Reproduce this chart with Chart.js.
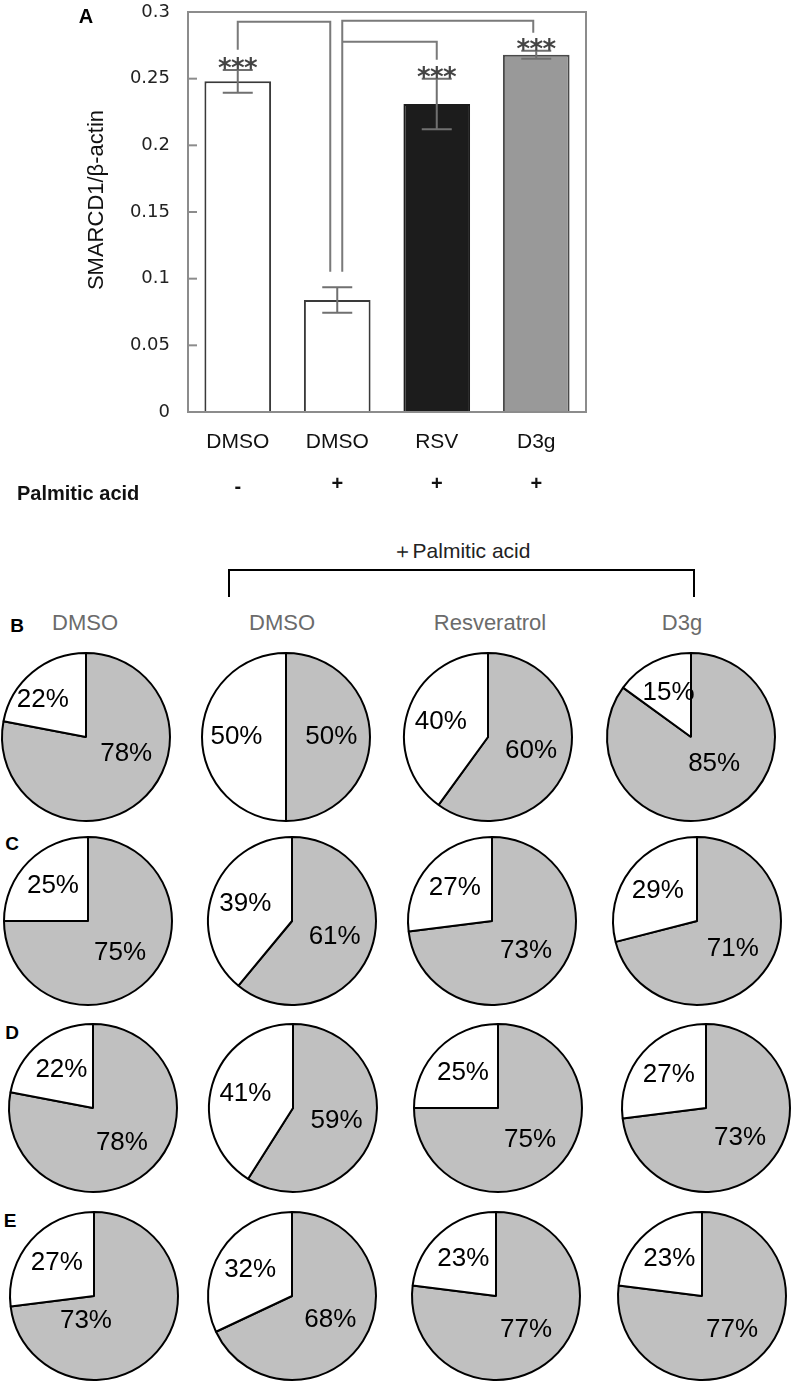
<!DOCTYPE html>
<html>
<head>
<meta charset="utf-8">
<script src="https://cdn.jsdelivr.net/npm/chart.js@4.4.1/dist/chart.umd.min.js"></script>
<style>
html,body{margin:0;padding:0;background:#fff;}
body{width:798px;height:1382px;position:relative;overflow:hidden;font-family:"Liberation Sans",Arial,sans-serif;}
#bar{position:absolute;left:0;top:0;}
.pie{position:absolute;}
.rowlab{position:absolute;font-weight:bold;font-size:19px;color:#000;transform:translate(-50%,-50%);line-height:1;}
.colhead{position:absolute;font-size:22px;color:#6b6b6b;transform:translate(-50%,-50%);white-space:nowrap;line-height:1;}
#paTitle{position:absolute;font-size:21px;color:#222;transform:translate(-50%,-50%);white-space:nowrap;line-height:1;}
#bracket{position:absolute;border-top:2px solid #000;border-left:2px solid #000;border-right:2px solid #000;box-sizing:border-box;}
#panelA{position:absolute;font-weight:bold;font-size:20px;color:#000;transform:translate(-50%,-50%);line-height:1;}
</style>
</head>
<body>
<canvas id="bar" width="798" height="520"></canvas>
<div id="panelA" style="left:86px;top:16px;">A</div>
<div id="paTitle" style="left:461px;top:550px;">＋Palmitic acid</div>
<div id="bracket" style="left:228px;top:569px;width:467px;height:28px;"></div>
<div id="pies"></div>

<script>
// ---------- Panel A data ----------
const barCategories = ['DMSO', 'DMSO', 'RSV', 'D3g'];
const barValues = [0.248, 0.084, 0.231, 0.268];
const barErrors = [0.0085, 0.0095, 0.019, 0.003];
const barSignificant = [true, false, true, true];
const palmiticAcid = ['-', '+', '+', '+'];
const yTickValues = [0, 0.05, 0.1, 0.15, 0.2, 0.25, 0.3];
const yAxisTitle = 'SMARCD1/β-actin';

// ---------- Panels B–E data (percentages) ----------
const pieColumns = ['DMSO', 'DMSO', 'Resveratrol', 'D3g'];
const rowLabels = ['B', 'C', 'D', 'E'];
const whiteB = [22, 50, 40, 15];
const grayB  = [78, 50, 60, 85];
const whiteC = [25, 39, 27, 29];
const grayC  = [75, 61, 73, 71];
const whiteD = [22, 41, 25, 27];
const grayD  = [78, 59, 75, 73];
const whiteE = [27, 32, 23, 23];
const grayE  = [73, 68, 77, 77];

// ---------- styles / layout ----------
const barFill = ['#ffffff', '#ffffff', '#1c1c1c', '#999999'];
const barEdge = ['#3a3a3a', '#3a3a3a', '#1c1c1c', '#4a4a4a'];
const frameColor = '#8c8c8c';
const errColor = '#707070';
const bracketColor = '#7a7a7a';

// significance brackets, heights in data units, leg x shifts in px
const brackets = [
  {from: 0, to: 1, fromDx: 0, toDx: -7, level: 0.2927, fromEnd: 0.2717, toEnd: 0.1052},
  {from: 1, to: 3, fromDx: 5, toDx: -3, level: 0.2935, fromEnd: 0.1052, toEnd: 0.2845},
  {from: 1, to: 2, fromDx: 5, toDx: 0, level: 0.2777, fromEnd: null, toEnd: 0.2642}
];

const barDecor = {
  id: 'barDecor',
  afterDatasetsDraw(chart) {
    const ctx = chart.ctx, xs = chart.scales.x, ys = chart.scales.y, a = chart.chartArea;
    ctx.save();
    // frame
    ctx.strokeStyle = frameColor; ctx.lineWidth = 2;
    ctx.strokeRect(a.left, a.top, a.right - a.left, a.bottom - a.top);
    // inward ticks
    yTickValues.forEach(v => {
      const py = ys.getPixelForValue(v);
      ctx.beginPath(); ctx.moveTo(a.left, py); ctx.lineTo(a.left + 9, py); ctx.stroke();
    });
    // error bars
    ctx.strokeStyle = errColor; ctx.lineWidth = 2;
    barValues.forEach((v, i) => {
      const px = xs.getPixelForValue(i);
      const t = ys.getPixelForValue(v + barErrors[i]);
      const b = ys.getPixelForValue(v - barErrors[i]);
      ctx.beginPath();
      ctx.moveTo(px, t); ctx.lineTo(px, b);
      ctx.moveTo(px - 15, t); ctx.lineTo(px + 15, t);
      ctx.moveTo(px - 15, b); ctx.lineTo(px + 15, b);
      ctx.stroke();
    });
    // stars
    ctx.fillStyle = '#444';
    ctx.font = 'bold 26px "DejaVu Sans"';
    ctx.textAlign = 'center'; ctx.textBaseline = 'alphabetic';
    barValues.forEach((v, i) => {
      if (!barSignificant[i]) return;
      const px = xs.getPixelForValue(i);
      const cy = ys.getPixelForValue(v + barErrors[i]) - 8;
      [-13, 0, 13].forEach(dx => ctx.fillText('*', px + dx, cy + 15));
    });
    // brackets
    ctx.strokeStyle = bracketColor; ctx.lineWidth = 2;
    brackets.forEach(br => {
      const x1 = xs.getPixelForValue(br.from) + br.fromDx;
      const x2 = xs.getPixelForValue(br.to) + br.toDx;
      const yl = ys.getPixelForValue(br.level);
      ctx.beginPath();
      if (br.fromEnd !== null) { ctx.moveTo(x1, ys.getPixelForValue(br.fromEnd)); ctx.lineTo(x1, yl); }
      else ctx.moveTo(x1, yl);
      ctx.lineTo(x2, yl);
      ctx.lineTo(x2, ys.getPixelForValue(br.toEnd));
      ctx.stroke();
    });
    // y-axis title
    ctx.save();
    ctx.translate(97, 200);
    ctx.rotate(-Math.PI / 2);
    ctx.fillStyle = '#111';
    ctx.font = '22px "Liberation Sans"';
    ctx.textAlign = 'center'; ctx.textBaseline = 'middle';
    ctx.fillText(yAxisTitle, 0, 0);
    ctx.restore();
    // palmitic acid row
    ctx.fillStyle = '#111';
    ctx.font = 'bold 20px "Liberation Sans"';
    ctx.textAlign = 'center';
    ctx.textBaseline = 'middle';
    palmiticAcid.forEach((s, i) => {
      ctx.fillText(s, xs.getPixelForValue(i), s === '+' ? 484 : 487);
    });
    ctx.textAlign = 'left';
    ctx.fillText('Palmitic acid', 17, 494);
    ctx.restore();
  }
};

new Chart(document.getElementById('bar'), {
  type: 'bar',
  data: {
    labels: barCategories,
    datasets: [{
      data: barValues,
      backgroundColor: barFill,
      borderColor: barEdge,
      borderWidth: 2,
      borderSkipped: 'start',
      barPercentage: 0.67,
      categoryPercentage: 1
    }]
  },
  options: {
    responsive: false,
    animation: false,
    layout: {padding: {left: 0, top: 12, right: 212, bottom: 0}},
    plugins: {legend: {display: false}, tooltip: {enabled: false}},
    scales: {
      x: {
        grid: {display: false, drawTicks: false},
        border: {display: false},
        ticks: {color: '#111', font: {family: 'Liberation Sans', size: 21}, padding: 18},
        afterFit(s) { s.height = 108; }
      },
      y: {
        min: 0, max: 0.3,
        afterBuildTicks(s) { s.ticks = yTickValues.map(v => ({value: v})); },
        grid: {display: false, drawTicks: false},
        border: {display: false},
        ticks: {color: '#222', font: {family: 'DejaVu Sans', size: 18}, padding: 18, callback: v => String(v)},
        afterFit(s) { s.width = 188; s.paddingTop = 0; s.paddingBottom = 0; }
      }
    }
  },
  plugins: [barDecor]
});

// ---------- pies ----------
const pieData = {B: [whiteB, grayB], C: [whiteC, grayC], D: [whiteD, grayD], E: [whiteE, grayE]};
const rowCenterY = {B: 737, C: 921, D: 1108, E: 1296};
const colCenterX = {B: [86, 286, 488, 691], C: [88, 292, 492, 697], D: [93, 293, 498, 706], E: [94, 292, 496, 702]};
const rowLabelPos = {B: [17, 625], C: [12, 843], D: [12, 1032], E: [10, 1220]};
const colHeadPos = [[85, 623], [282, 623], [490, 623], [682, 623]];
// label placement overrides (clockwise degrees from 12 o'clock, fraction of radius); index 0 = gray, 1 = white
const labelOverrides = {
  'B0': {0: {angle: 113, dist: 0.52}, 1: {angle: 311, dist: 0.68}},
  'B3': {0: {angle: 139, dist: 0.42}},
  'E0': {0: {angle: 198, dist: 0.31}}
};

const pctLabels = {
  id: 'pctLabels',
  afterDatasetsDraw(chart, args, opts) {
    const ctx = chart.ctx, meta = chart.getDatasetMeta(0), ds = chart.data.datasets[0];
    ctx.save();
    ctx.fillStyle = '#000';
    ctx.font = '26px "Liberation Sans"';
    ctx.textAlign = 'center'; ctx.textBaseline = 'middle';
    meta.data.forEach((arc, i) => {
      const p = arc.getProps(['x', 'y', 'startAngle', 'endAngle', 'outerRadius'], true);
      let ang = (p.startAngle + p.endAngle) / 2;
      let f = i === 0 ? 0.54 : 0.59;
      const ov = opts.overrides && opts.overrides[i];
      if (ov) { ang = ov.angle * Math.PI / 180 - Math.PI / 2; f = ov.dist; }
      ctx.fillText(ds.data[i] + '%', p.x + Math.cos(ang) * p.outerRadius * f, p.y + Math.sin(ang) * p.outerRadius * f);
    });
    ctx.restore();
  }
};

const holder = document.getElementById('pies');
pieColumns.forEach((name, c) => {
  const d = document.createElement('div');
  d.className = 'colhead';
  d.style.left = colHeadPos[c][0] + 'px';
  d.style.top = colHeadPos[c][1] + 'px';
  d.textContent = name;
  holder.appendChild(d);
});
rowLabels.forEach(r => {
  const l = document.createElement('div');
  l.className = 'rowlab';
  l.style.left = rowLabelPos[r][0] + 'px';
  l.style.top = rowLabelPos[r][1] + 'px';
  l.textContent = r;
  holder.appendChild(l);
  const [white, gray] = pieData[r];
  for (let c = 0; c < 4; c++) {
    const cv = document.createElement('canvas');
    cv.className = 'pie';
    cv.width = 180; cv.height = 180;
    cv.style.left = (colCenterX[r][c] - 90) + 'px';
    cv.style.top = (rowCenterY[r] - 90) + 'px';
    holder.appendChild(cv);
    new Chart(cv, {
      type: 'pie',
      data: {
        labels: ['gray', 'white'],
        datasets: [{
          data: [gray[c], white[c]],
          backgroundColor: ['#c0c0c0', '#ffffff'],
          borderColor: '#000',
          borderWidth: 2
        }]
      },
      options: {
        responsive: false,
        animation: false,
        radius: 84,
        layout: {padding: 0},
        plugins: {
          legend: {display: false},
          tooltip: {enabled: false},
          pctLabels: {overrides: labelOverrides[r + c] || null}
        }
      },
      plugins: [pctLabels]
    });
  }
});
</script>
</body>
</html>
